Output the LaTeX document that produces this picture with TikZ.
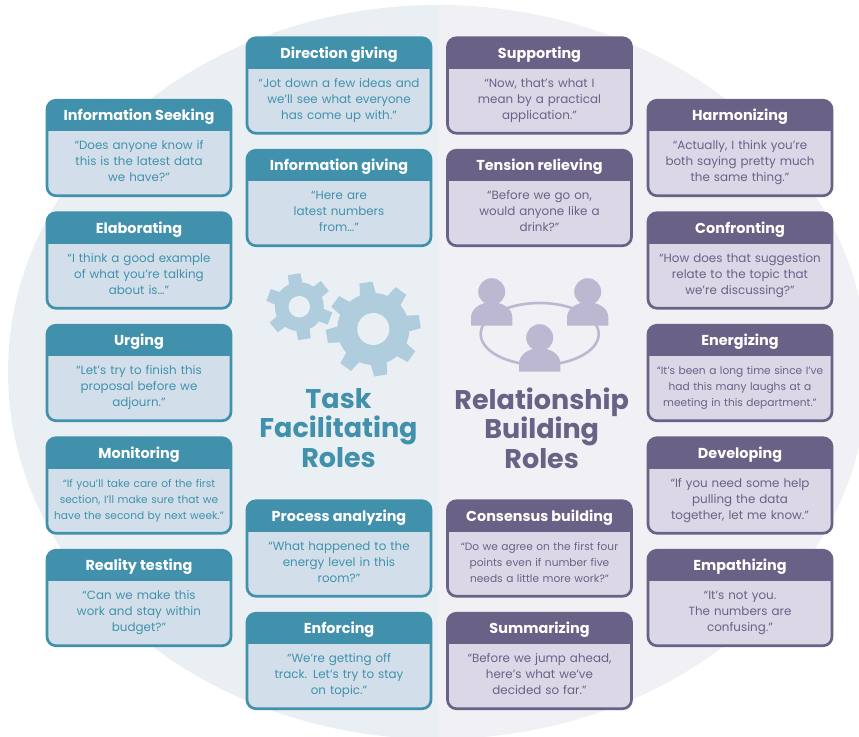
\documentclass[tikz,border=0pt]{standalone}
\usepackage{fontspec}
\setmainfont{Poppins}
\definecolor{taskcol}{HTML}{4191AC}
\definecolor{tasklight}{HTML}{D2DFEB}
\definecolor{taskbg}{HTML}{EAEFF4}
\definecolor{gearcol}{HTML}{AFCDDD}
\definecolor{relcol}{HTML}{6A6186}
\definecolor{rellight}{HTML}{DBD7E6}
\definecolor{relbg}{HTML}{F0F0F5}
\definecolor{peoplecol}{HTML}{BDB8D2}
\usetikzlibrary{positioning}
\newcommand{\smallquote}{\fontsize{10.6}{16}\selectfont}

\begin{document}
\begin{tikzpicture}[x=1pt,y=-1pt,node distance=112.5pt]
\tikzstyle{rr} = [rectangle, rounded corners=9pt, minimum width=184pt, minimum height=95.5pt, text width=180pt, inner sep=0pt, text height=49.5pt, text depth=46pt, align=center, line width=2.7pt, font=\fontsize{11.9}{16}\selectfont]
\tikzstyle{task} = [rr, draw=taskcol, fill=tasklight, text=taskcol, path picture={\fill[taskcol, sharp corners] (path picture bounding box.north west) rectangle ([yshift=-31pt]path picture bounding box.north east);}]
\tikzstyle{rel} = [rr, draw=relcol, fill=rellight, text=relcol, path picture={\fill[relcol, sharp corners] (path picture bounding box.north west) rectangle ([yshift=-31pt]path picture bounding box.north east);}]
\tikzstyle{head} = [text=white, font=\fontsize{14.4}{16}\selectfont\bfseries, inner sep=0pt]
\tikzstyle{bigtitle} = [align=center, font=\fontsize{27}{29.5}\selectfont\bfseries, inner sep=0pt]
\useasboundingbox (0,0) rectangle (859,736);
\clip (0,0) rectangle (859,736);

% background
\begin{scope}
\clip (0,0) rectangle (438,736);
\fill[taskbg] (438,372) ellipse [x radius=430, y radius=367];
\end{scope}
\begin{scope}
\clip (438,0) rectangle (859,736);
\fill[relbg] (438,372) ellipse [x radius=430, y radius=367];
\end{scope}

% left column
\node (Seek) [task] at (139,148) {“Does anyone know if\\this is the latest data\\we have?”};
\node (Elab) [task, below of=Seek] {“I think a good example\\of what you’re talking\\about is…”};
\node (Urge) [task, below of=Elab] {“Let’s try to finish this\\proposal before we\\adjourn.”};
\node (Moni) [task, below of=Urge, font=\smallquote] {“If you’ll take care of the first\\section, I’ll make sure that we\\have the second by next week.”};
\node (Real) [task, below of=Moni] {“Can we make this\\work and stay within\\budget?”};
\node (SeekT) [head] at ([yshift=-18pt]Seek.north) {Information Seeking};
\node (ElabT) [head] at ([yshift=-18pt]Elab.north) {Elaborating};
\node (UrgeT) [head] at ([yshift=-18pt]Urge.north) {Urging};
\node (MoniT) [head] at ([yshift=-18pt]Moni.north) {Monitoring};
\node (RealT) [head] at ([yshift=-18pt]Real.north) {Reality testing};

% second column
\node (Dire) [task] at (339,85.5) {“Jot down a few ideas and\\we’ll see what everyone\\has come up with.”};
\node (Info) [task, below of=Dire] {“Here are\\latest numbers\\from…”};
\node (Proc) [task] at (339,548.5) {“What happened to the\\energy level in this\\room?”};
\node (Enfo) [task, below of=Proc] {“We’re getting off\\track. Let’s try to stay\\on topic.”};
\node (DireT) [head] at ([yshift=-18pt]Dire.north) {Direction giving};
\node (InfoT) [head] at ([yshift=-18pt]Info.north) {Information giving};
\node (ProcT) [head] at ([yshift=-18pt]Proc.north) {Process analyzing};
\node (EnfoT) [head] at ([yshift=-18pt]Enfo.north) {Enforcing};

% third column
\node (Supp) [rel] at (539.5,85.5) {“Now, that’s what I\\mean by a practical\\application.”};
\node (Tens) [rel, below of=Supp] {“Before we go on,\\would anyone like a\\drink?”};
\node (Cons) [rel, font=\smallquote] at (539.5,548.5) {“Do we agree on the first four\\points even if number five\\needs a little more work?”};
\node (Summ) [rel, below of=Cons] {“Before we jump ahead,\\here’s what we’ve\\decided so far.”};
\node (SuppT) [head] at ([yshift=-18pt]Supp.north) {Supporting};
\node (TensT) [head] at ([yshift=-18pt]Tens.north) {Tension relieving};
\node (ConsT) [head] at ([yshift=-18pt]Cons.north) {Consensus building};
\node (SummT) [head] at ([yshift=-18pt]Summ.north) {Summarizing};

% right column
\node (Harm) [rel] at (740,148) {“Actually, I think you’re\\both saying pretty much\\the same thing.”};
\node (Conf) [rel, below of=Harm] {“How does that suggestion\\relate to the topic that\\we’re discussing?”};
\node (Ener) [rel, below of=Conf, font=\smallquote] {“It’s been a long time since I’ve\\had this many laughs at a\\meeting in this department.”};
\node (Deve) [rel, below of=Ener] {“If you need some help\\pulling the data\\together, let me know.”};
\node (Empa) [rel, below of=Deve] {“It’s not you.\\The numbers are\\confusing.”};
\node (HarmT) [head] at ([yshift=-18pt]Harm.north) {Harmonizing};
\node (ConfT) [head] at ([yshift=-18pt]Conf.north) {Confronting};
\node (EnerT) [head] at ([yshift=-18pt]Ener.north) {Energizing};
\node (DeveT) [head] at ([yshift=-18pt]Deve.north) {Developing};
\node (EmpaT) [head] at ([yshift=-18pt]Empa.north) {Empathizing};

% gears
\begin{scope}[shift={(373.3,329)}]
\fill[gearcol] (0,0) circle (36pt);
\foreach \a in {0,45,...,315}
  \fill[gearcol] (99+\a-14:34pt) -- (99+\a-8:47.5pt) -- (99+\a+8:47.5pt) -- (99+\a+14:34pt) -- cycle;
\fill[taskbg] (0,0) circle (16pt);
\end{scope}
\begin{scope}[shift={(299.3,306.7)}]
\fill[gearcol] (0,0) circle (24.5pt);
\foreach \a in {0,60,...,300}
  \fill[gearcol] (99+\a-17:23pt) -- (99+\a-11:33.5pt) -- (99+\a+11:33.5pt) -- (99+\a+17:23pt) -- cycle;
\fill[taskbg] (0,0) circle (10.7pt);
\end{scope}

% people
\draw[peoplecol, line width=2.6pt] (539.7,334) ellipse [x radius=59, y radius=31];
\foreach \px/\py in {491.7/291.7, 587.7/291.7, 539.7/337.7} {
  \fill[peoplecol] (\px,\py) circle (13.5pt);
  \fill[peoplecol] (\px-20.7,\py+34) -- (\px-20.7,\py+26) .. controls (\px-20.7,\py+16) and (\px-10,\py+10.5) .. (\px,\py+10.5) .. controls (\px+10,\py+10.5) and (\px+20.7,\py+16) .. (\px+20.7,\py+26) -- (\px+20.7,\py+34) -- cycle;
}

% titles
\node (TaskT) [bigtitle, text=taskcol] at (338.5,428) {Task\\Facilitating\\Roles};
\node (RelT) [bigtitle, text=relcol] at (541.7,428) {Relationship\\Building\\Roles};
\end{tikzpicture}
\end{document}
